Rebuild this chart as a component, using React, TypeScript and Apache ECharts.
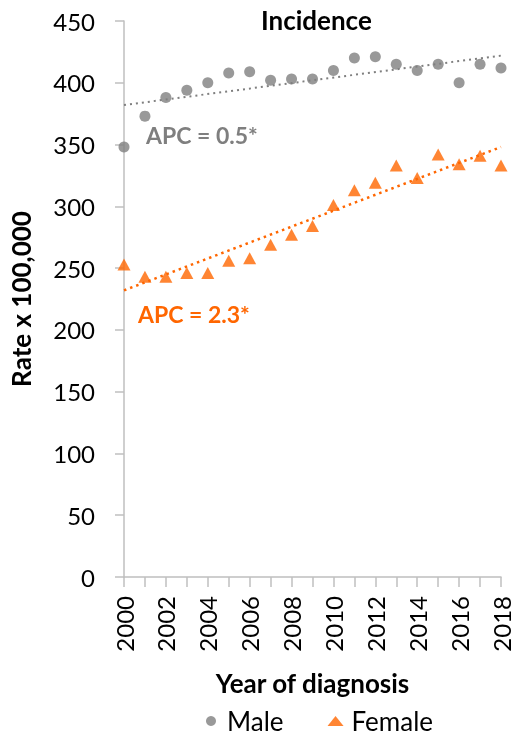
import React, { useEffect, useRef } from "react";
import * as echarts from "echarts";

const years = [2000, 2001, 2002, 2003, 2004, 2005, 2006, 2007, 2008, 2009, 2010, 2011, 2012, 2013, 2014, 2015, 2016, 2017, 2018];
const maleRates = [348, 373, 388, 394, 400, 408, 409, 402, 403, 403, 410, 420, 421, 415, 410, 415, 400, 415, 412];
const femaleRates = [253, 243, 243, 246, 246, 256, 258, 269, 277, 284, 301, 313, 319, 333, 323, 342, 334, 341, 333];
const trendYears = [2000, 2018];
const maleTrend = [382, 422];
const femaleTrend = [232, 348];
const yTicks = [0, 50, 100, 150, 200, 250, 300, 350, 400, 450];

const GRAY = "#7f7f7f";
const ORANGE = "#ff6600";
const FONT = "Lato";

export default function App() {
  const ref = useRef<HTMLDivElement>(null);
  useEffect(() => {
    if (!ref.current) return;
    const chart = echarts.init(ref.current, null, { renderer: "svg" });
    chart.setOption({
      animation: false,
      textStyle: { fontFamily: FONT },
      title: {
        text: "Incidence",
        left: 256,
        top: 2,
        textStyle: { fontFamily: FONT, fontSize: 26, fontWeight: "bold", color: "#000" },
      },
      legend: {
        top: 708,
        left: 206,
        padding: 0,
        itemGap: 44,
        itemWidth: 16,
        itemHeight: 10,
        itemSymbolGap: 8,
        data: [
          { name: "Male", icon: "circle" },
          { name: "Female", icon: "triangle" },
        ],
        textStyle: { fontFamily: FONT, fontSize: 26, lineHeight: 26, color: "#000", padding: [0, 0, 0, 3] },
      },
      grid: { left: 123, right: 14, top: 21, bottom: 159, containLabel: false },
      xAxis: {
        type: "value",
        min: 2000,
        max: 2018,
        interval: 1,
        name: "Year of diagnosis",
        nameLocation: "middle",
        nameGap: 93,
        nameTextStyle: { fontFamily: FONT, fontSize: 26, fontWeight: "bold", color: "#000" },
        axisLine: { show: true, lineStyle: { color: "#bfbfbf", width: 1.5 } },
        axisTick: { show: true, length: 10, lineStyle: { color: "#bfbfbf", width: 1.5 } },
        splitLine: { show: false },
        axisLabel: {
          rotate: 90,
          margin: 19,
          fontFamily: FONT,
          fontSize: 24,
          color: "#000",
          formatter: (v: number) => (v % 2 === 0 ? String(v) : ""),
        },
      },
      yAxis: {
        type: "value",
        min: yTicks[0],
        max: yTicks[yTicks.length - 1],
        interval: 50,
        name: "Rate x 100,000",
        nameLocation: "middle",
        nameGap: 90,
        nameTextStyle: { fontFamily: FONT, fontSize: 26, fontWeight: "bold", color: "#000" },
        axisLine: { show: true, lineStyle: { color: "#bfbfbf", width: 1.5 } },
        axisTick: { show: true, length: 9, lineStyle: { color: "#bfbfbf", width: 1.5 } },
        splitLine: { show: false },
        axisLabel: { margin: 29, fontFamily: FONT, fontSize: 24, color: "#000" },
      },
      series: [
        {
          name: "Male trend",
          type: "line",
          data: trendYears.map((y, i) => [y, maleTrend[i]]),
          symbol: "none",
          lineStyle: { color: GRAY, width: 2, type: [2, 4] },
          z: 1,
          silent: true,
        },
        {
          name: "Female trend",
          type: "line",
          data: trendYears.map((y, i) => [y, femaleTrend[i]]),
          symbol: "none",
          lineStyle: { color: ORANGE, width: 2.5, type: [2.5, 4] },
          z: 1,
          silent: true,
        },
        {
          name: "Male",
          type: "scatter",
          data: years.map((y, i) => [y, maleRates[i]]),
          symbol: "circle",
          symbolSize: 11,
          itemStyle: { color: GRAY },
          z: 3,
        },
        {
          name: "Female",
          type: "scatter",
          data: years.map((y, i) => [y, femaleRates[i]]),
          symbol: "triangle",
          symbolSize: [13, 12],
          itemStyle: { color: ORANGE },
          z: 3,
        },
      ],
      graphic: [
        {
          type: "text",
          left: 146,
          top: 123,
          style: { text: "APC = 0.5*", fill: GRAY, font: `bold 23px ${FONT}` },
        },
        {
          type: "text",
          left: 138,
          top: 302,
          style: { text: "APC = 2.3*", fill: ORANGE, font: `bold 23px ${FONT}` },
        },
      ],
    });
    return () => chart.dispose();
  }, []);
  return (
    <div
      ref={ref}
      style={{ position: "fixed", left: 0, top: 0, width: 515, height: 736 }}
    />
  );
}
